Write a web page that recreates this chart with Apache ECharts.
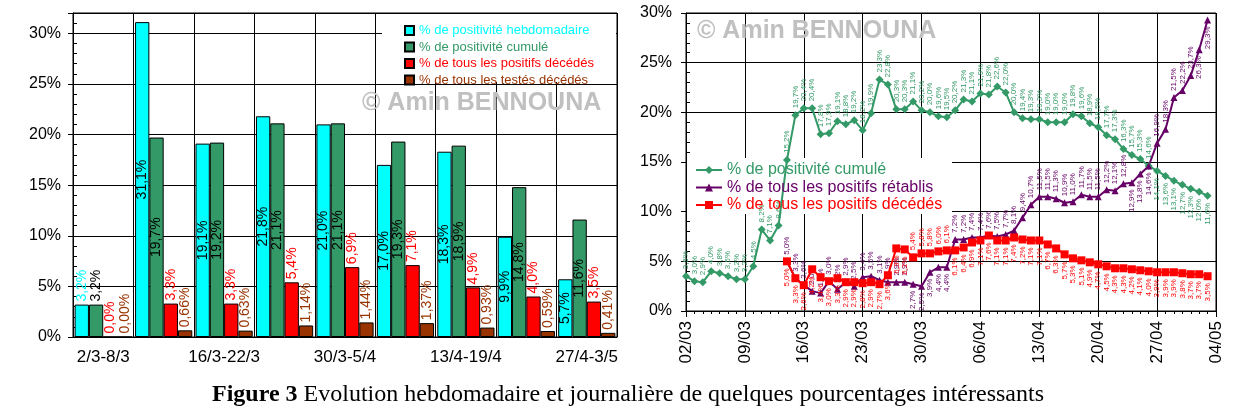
<!DOCTYPE html>
<html>
<head>
<meta charset="utf-8">
<script src="https://cdn.jsdelivr.net/npm/echarts@6/dist/echarts.min.js"></script>
<style>
html,body{margin:0;padding:0;background:#fff;}
#c{width:1257px;height:419px;}
</style>
</head>
<body>
<div id="c"></div>
<script>
// ---- Left chart (weekly) ----
const weeks = ['2/3-8/3','9/3-15/3','16/3-22/3','23/3-29/3','30/3-5/4','6/4-12/4','13/4-19/4','20/4-26/4','27/4-3/5'];
const weeklyPos = [3.2, 31.1, 19.1, 21.8, 21.0, 17.0, 18.3, 9.9, 5.7];
const cumulPosWeek = [3.2, 19.7, 19.2, 21.1, 21.1, 19.3, 18.9, 14.8, 11.6];
const posDeathsWeek = [0.0, 3.3, 3.3, 5.4, 6.9, 7.1, 4.9, 4.0, 3.5];
const testedDeathsWeek = [0.00, 0.66, 0.63, 1.14, 1.44, 1.37, 0.93, 0.59, 0.41];

// ---- Right chart (daily) ----
const days = ['02/03','03/03','04/03','05/03','06/03','07/03','08/03','09/03','10/03','11/03','12/03','13/03','14/03','15/03','16/03','17/03','18/03','19/03','20/03','21/03','22/03','23/03','24/03','25/03','26/03','27/03','28/03','29/03','30/03','31/03',
  '01/04','02/04','03/04','04/04','05/04','06/04','07/04','08/04','09/04','10/04','11/04','12/04','13/04','14/04','15/04','16/04','17/04','18/04','19/04','20/04','21/04','22/04','23/04','24/04','25/04','26/04','27/04','28/04','29/04','30/04',
  '01/05','02/05','03/05','04/05'];
const cumulPosDay = [3.5,3.0,2.9,4.0,3.8,3.5,3.2,3.2,4.5,8.2,7.1,8.6,15.2,19.7,20.4,20.4,17.8,17.9,19.1,18.8,19.2,18.2,19.9,23.3,22.8,20.3,20.3,21.1,20.2,20.0,19.6,
  19.5,20.2,21.3,21.1,21.9,21.8,22.6,22.0,20.0,19.4,19.3,19.3,19.0,19.0,19.0,19.8,19.6,18.9,18.5,17.7,17.3,16.3,15.7,15.3,14.6,14.1,13.6,13.1,12.7,12.3,12.0,11.6];
const recoveredDay = [null,null,null,null,null,null,null,null,null,null,null,null,5.0,3.3,2.6,2.0,1.8,3.0,2.2,2.9,2.5,3.4,3.5,3.1,2.9,2.9,2.9,2.7,2.5,3.9,4.4,
  4.4,7.2,7.2,7.4,7.4,7.6,7.5,7.7,8.1,9.4,10.7,11.5,11.5,11.3,10.9,11.0,11.7,11.5,11.5,12.2,12.1,12.8,12.9,13.8,14.6,16.9,18.3,21.5,22.2,23.7,26.3,29.3];
const deathsDay = [null,null,null,null,null,null,null,null,null,null,null,null,5.0,3.3,2.6,4.2,3.4,3.0,3.3,2.9,2.9,2.8,2.9,2.7,3.6,6.3,6.2,5.4,5.8,5.8,6.0,
  6.1,6.1,6.4,6.9,7.1,7.6,7.1,7.1,7.4,7.2,7.1,7.1,6.7,6.3,5.7,5.3,5.1,4.9,4.7,4.5,4.3,4.3,4.2,4.1,4.0,3.9,3.9,3.9,3.8,3.7,3.7,3.5];

const FONT = 'Liberation Sans, Arial, sans-serif';
const SERIF = 'Liberation Serif, Times New Roman, serif';
const C_CYAN = '#00FFFF', C_GREEN = '#339966', C_RED = '#FF0000', C_BROWN = '#993300', C_PURPLE = '#660066';

function pct(v, d) { return v.toFixed(d).replace('.', ',') + '%'; }

const upLabel = { position: 'top', rotate: 90, align: 'left', verticalAlign: 'middle', distance: 3 };
const inLabel = { position: 'inside', rotate: 90, align: 'center', verticalAlign: 'middle' };

function barData(arr, decimals, color, insideColor, insideFrom) {
  return arr.map((v, i) => {
    const inside = insideFrom !== null && i >= insideFrom;
    const lab = Object.assign({ show: true, fontSize: 14, fontFamily: FONT,
      color: inside ? insideColor : color,
      formatter: pct(v, decimals) }, inside ? inLabel : upLabel);
    return { value: v, label: lab };
  });
}

function lineData(arr, color, belowSet) {
  const out = [];
  arr.forEach((v, i) => {
    if (v === null) return;
    const below = belowSet.indexOf(i) >= 0;
    out.push({
      value: [i, v],
      label: below
        ? { show: true, position: 'bottom', rotate: 90, align: 'right', verticalAlign: 'middle', distance: 3, fontSize: 8, fontFamily: FONT, color: color, formatter: pct(v, 1) }
        : { show: true, position: 'top', rotate: 90, align: 'left', verticalAlign: 'middle', distance: 3, fontSize: 8, fontFamily: FONT, color: color, formatter: pct(v, 1) }
    });
  });
  return out;
}

const greenBelow = [56,57,58,59,60,61,62];
const purpleBelow = [27,28,29,30,31,53,54,55,61,62];
const redBelow = [];
for (let i = 12; i <= 62; i++) { if (!(i >= 27 && i <= 31)) redBelow.push(i); }

const chart = echarts.init(document.getElementById('c'), null, { renderer: 'canvas' });

const option = {
  animation: false,
  backgroundColor: '#fff',
  textStyle: { fontFamily: FONT },
  grid: [
    { left: 73, top: 13, width: 544, height: 324, show: true, borderColor: '#000', borderWidth: 1, backgroundColor: 'transparent' },
    { left: 686, top: 13, width: 530, height: 298, show: true, borderColor: '#000', borderWidth: 1, backgroundColor: 'transparent' }
  ],
  xAxis: [
    { type: 'category', gridIndex: 0, data: weeks,
      axisLine: { lineStyle: { color: '#000' } },
      axisTick: { interval: 0, length: 5, lineStyle: { color: '#000' } },
      axisLabel: { interval: 1, fontSize: 17, color: '#000', margin: 12, fontFamily: FONT },
      splitLine: { show: true, interval: 0, lineStyle: { color: '#000', width: 1 } } },
    { type: 'value', gridIndex: 1, min: 0, max: 63, interval: 7,
      axisLine: { lineStyle: { color: '#000' } },
      axisTick: { length: 6, lineStyle: { color: '#000' } },
      minorTick: { show: true, splitNumber: 7, length: 3, lineStyle: { color: '#000' } },
      axisLabel: { rotate: 90, fontSize: 17, color: '#000', margin: 10, fontFamily: FONT,
        formatter: v => days[v] || '' },
      splitLine: { show: true, lineStyle: { color: '#000', width: 1 } } }
  ],
  yAxis: [
    { type: 'value', gridIndex: 0, min: 0, max: 32, interval: 5,
      axisLine: { show: true, lineStyle: { color: '#000' } },
      axisTick: { show: true, length: 5, lineStyle: { color: '#000' } },
      minorTick: { show: true, splitNumber: 5, length: -4, lineStyle: { color: '#000' } },
      axisLabel: { fontSize: 16, color: '#000', margin: 12, fontFamily: FONT,
        formatter: v => (v % 5 === 0 && v <= 30) ? v + '%' : '' },
      splitLine: { show: true, lineStyle: { color: '#000', width: 1 } } },
    { type: 'value', gridIndex: 1, min: 0, max: 30, interval: 5,
      axisLine: { show: true, lineStyle: { color: '#000' } },
      axisTick: { show: true, length: 5, lineStyle: { color: '#000' } },
      minorTick: { show: true, splitNumber: 5, length: -4, lineStyle: { color: '#000' } },
      axisLabel: { fontSize: 16, color: '#000', margin: 14, fontFamily: FONT, formatter: v => v + '%' },
      splitLine: { show: true, lineStyle: { color: '#000', width: 1 } } }
  ],
  legend: [
    { left: 399, top: 19, orient: 'vertical', itemWidth: 9, itemHeight: 9, itemGap: 3.5,
      textStyle: { fontSize: 13, fontFamily: FONT }, icon: 'rect',
      data: [
        { name: '% de positivité hebdomadaire', textStyle: { color: C_CYAN } },
        { name: '% de positivité cumulé', textStyle: { color: C_GREEN } },
        { name: '% de tous les positifs décédés', textStyle: { color: C_RED } },
        { name: '% de tous les testés décédés', textStyle: { color: C_BROWN } }
      ] },
    { left: 690, top: 157, orient: 'vertical', itemWidth: 26, itemHeight: 10, itemGap: 1.5,
      textStyle: { fontSize: 16, fontFamily: FONT },
      data: [
        { name: '% de positivité cumulé ', textStyle: { color: C_GREEN } },
        { name: '% de tous les positifs rétablis', textStyle: { color: C_PURPLE } },
        { name: '% de tous les positifs décédés ', textStyle: { color: C_RED } }
      ] }
  ],
  graphic: [
    { type: 'rect', z: 1, shape: { x: 382, y: 14, width: 234, height: 68 }, style: { fill: '#fff' } },
    { type: 'rect', z: 1, shape: { x: 687, y: 158, width: 265, height: 56 }, style: { fill: '#fff' } },
    { type: 'text', z: 1, left: 362, top: 91, style: { text: '© Amin BENNOUNA', font: 'bold 25px ' + FONT, fill: '#C0C0C0' } },
    { type: 'text', z: 1, left: 697, top: 19, style: { text: '© Amin BENNOUNA', font: 'bold 25px ' + FONT, fill: '#C0C0C0' } },
    { type: 'text', z: 5, x: 628, y: 395,
      style: { text: '{b|Figure 3}{n| Evolution hebdomadaire et journalière de quelques pourcentages intéressants}',
        align: 'center', verticalAlign: 'middle',
        rich: {
          b: { fontFamily: SERIF, fontSize: 24, fontWeight: 'bold', fill: '#000' },
          n: { fontFamily: SERIF, fontSize: 24, fill: '#000' }
        } } }
  ],
  series: [
    { name: '% de positivité hebdomadaire', type: 'bar', xAxisIndex: 0, yAxisIndex: 0, barWidth: 14.3, barGap: '0%', z: 3,
      itemStyle: { color: C_CYAN, borderColor: '#000', borderWidth: 1 },
      data: barData(weeklyPos, 1, C_CYAN, '#000', 1) },
    { name: '% de positivité cumulé', type: 'bar', xAxisIndex: 0, yAxisIndex: 0, barWidth: 14.3, barGap: '0%', z: 3,
      itemStyle: { color: C_GREEN, borderColor: '#000', borderWidth: 1 },
      data: barData(cumulPosWeek, 1, '#000', '#000', 1) },
    { name: '% de tous les positifs décédés', type: 'bar', xAxisIndex: 0, yAxisIndex: 0, barWidth: 14.3, barGap: '0%', z: 3,
      itemStyle: { color: C_RED, borderColor: '#000', borderWidth: 1 },
      data: barData(posDeathsWeek, 1, C_RED, C_RED, null) },
    { name: '% de tous les testés décédés', type: 'bar', xAxisIndex: 0, yAxisIndex: 0, barWidth: 14.3, barGap: '0%', z: 3,
      itemStyle: { color: C_BROWN, borderColor: '#000', borderWidth: 1 },
      data: barData(testedDeathsWeek, 2, C_BROWN, C_BROWN, null) },

    { name: '% de positivité cumulé ', type: 'line', xAxisIndex: 1, yAxisIndex: 1, z: 3,
      symbol: 'diamond', symbolSize: 8, lineStyle: { color: C_GREEN, width: 2 },
      itemStyle: { color: C_GREEN }, data: lineData(cumulPosDay, C_GREEN, greenBelow) },
    { name: '% de tous les positifs rétablis', type: 'line', xAxisIndex: 1, yAxisIndex: 1, z: 3,
      symbol: 'triangle', symbolSize: 7, lineStyle: { color: C_PURPLE, width: 2 },
      itemStyle: { color: C_PURPLE }, data: lineData(recoveredDay, C_PURPLE, purpleBelow) },
    { name: '% de tous les positifs décédés ', type: 'line', xAxisIndex: 1, yAxisIndex: 1, z: 4,
      symbol: 'rect', symbolSize: 8, lineStyle: { color: C_RED, width: 2 },
      itemStyle: { color: C_RED }, data: lineData(deathsDay, C_RED, redBelow) }
  ]
};
chart.setOption(option);
</script>
</body>
</html>
